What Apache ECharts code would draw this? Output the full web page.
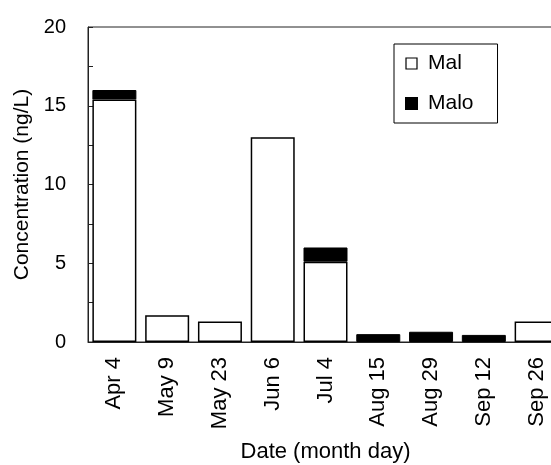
<!DOCTYPE html>
<html>
<head>
<meta charset="utf-8">
<script src="https://cdn.jsdelivr.net/npm/echarts@6/dist/echarts.min.js"></script>
<style>
  html, body { margin: 0; padding: 0; background: #fff; }
  #chart { width: 551px; height: 465px; }
</style>
</head>
<body>
<div id="chart"></div>
<script>
// sampling dates
const dates = ["Apr 4", "May 9", "May 23", "Jun 6", "Jul 4", "Aug 15", "Aug 29", "Sep 12", "Sep 26"];
// concentrations, ng/L, "-" = not detected
const malValues = [15.4, 1.7, 1.3, 13.0, 5.1, "-", "-", "-", 1.3];
const maloValues = [0.6, "-", "-", "-", 0.9, 0.5, 0.65, 0.45, "-"];
const yTicks = [0, 5, 10, 15, 20];

const font = "Liberation Sans, Arial, sans-serif";
const lineColor = "#222";

const chart = echarts.init(document.getElementById("chart"));

const option = {
  animation: false,
  backgroundColor: "#fff",
  grid: {
    left: 88,
    top: 27,
    width: 475,
    height: 315,
    outerBoundsMode: "none",
    containLabel: false,
    show: true,
    borderColor: lineColor,
    borderWidth: 1,
    backgroundColor: "transparent"
  },
  legend: {
    left: 394,
    top: 44,
    orient: "vertical",
    padding: [9, 24, 9, 11],
    borderColor: "#000",
    borderWidth: 1,
    itemWidth: 11,
    itemHeight: 11,
    itemGap: 19,
    icon: "rect",
    textStyle: { fontFamily: font, fontSize: 21, color: "#000", padding: [0, 0, 0, 6] },
    data: [
      { name: "Mal", itemStyle: { color: "#fff", borderColor: "#000", borderWidth: 1.2 } },
      { name: "Malo", itemStyle: { color: "#000" } }
    ]
  },
  xAxis: {
    type: "category",
    data: dates,
    name: "Date (month day)",
    nameLocation: "middle",
    nameGap: 99,
    nameTextStyle: { fontFamily: font, fontSize: 22, color: "#000" },
    axisLine: { lineStyle: { color: lineColor, width: 1 } },
    axisTick: { show: false },
    axisLabel: {
      rotate: 90,
      margin: 15,
      fontFamily: font,
      fontSize: 22,
      color: "#000",
      interval: 0
    },
    splitLine: { show: false }
  },
  yAxis: {
    type: "value",
    min: yTicks[0],
    max: yTicks[yTicks.length - 1],
    interval: 5,
    name: "Concentration (ng/L)",
    nameLocation: "middle",
    nameGap: 50,
    nameTextStyle: { fontFamily: font, fontSize: 21, color: "#000" },
    axisLine: { show: true, lineStyle: { color: lineColor, width: 1 } },
    axisTick: { show: true, inside: true, length: 5, lineStyle: { color: lineColor } },
    minorTick: { show: true, splitNumber: 2, length: 5, lineStyle: { color: lineColor } },
    axisLabel: { margin: 22, fontFamily: font, fontSize: 20, color: "#000" },
    splitLine: { show: false }
  },
  series: [
    {
      name: "Mal",
      type: "bar",
      stack: "total",
      barWidth: 44,
      data: malValues,
      itemStyle: { color: "#fff", borderColor: "#000", borderWidth: 1.5 }
    },
    {
      name: "Malo",
      type: "bar",
      stack: "total",
      barWidth: 44,
      data: maloValues,
      itemStyle: { color: "#000", borderColor: "#000", borderWidth: 1 }
    }
  ]
};

chart.setOption(option);
</script>
</body>
</html>
